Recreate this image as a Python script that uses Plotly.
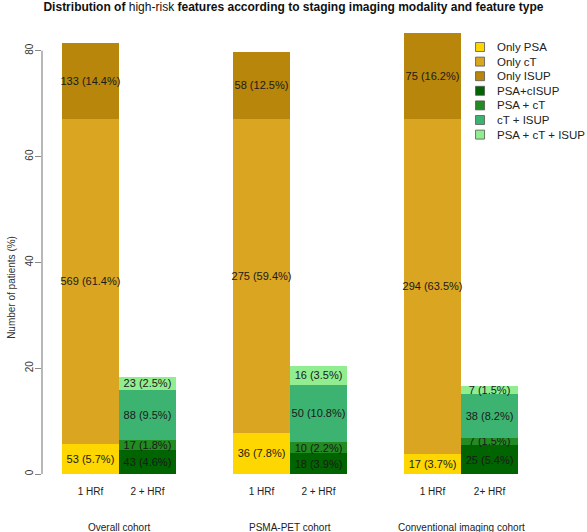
import plotly.graph_objects as go

# bar positions (units of bar width): 1 HRf / 2+ HRf pairs, one empty slot between cohorts
single_x = [0.5, 3.5, 6.5]
multi_x = [1.5, 4.5, 7.5]
bar_labels = ['1 HRf', '2 + HRf', '1 HRf', '2 + HRf', '1 HRf', '2+ HRf']
cohorts = ['Overall cohort', 'PSMA-PET cohort', 'Conventional imaging cohort']
cohort_x = [1.0, 4.0, 7.0]

names = ['Only PSA', 'Only cT', 'Only ISUP', 'PSA+cISUP', 'PSA + cT', 'cT + ISUP', 'PSA + cT + ISUP']
colors = ['#FFD700', '#DAA520', '#B8860B', '#006400', '#228B22', '#3CB371', '#90EE90']

# counts and percentages per cohort (Overall, PSMA-PET, Conventional)
only_psa_n = [53, 36, 17]
only_psa_pct = [5.7, 7.8, 3.7]
only_ct_n = [569, 275, 294]
only_ct_pct = [61.4, 59.4, 63.5]
only_isup_n = [133, 58, 75]
only_isup_pct = [14.4, 12.5, 16.2]
psa_isup_n = [43, 18, 25]
psa_isup_pct = [4.6, 3.9, 5.4]
psa_ct_n = [17, 10, 7]
psa_ct_pct = [1.8, 2.2, 1.5]
ct_isup_n = [88, 50, 38]
ct_isup_pct = [9.5, 10.8, 8.2]
all_three_n = [23, 16, 7]
all_three_pct = [2.5, 3.5, 1.5]

series = [
    (single_x, only_psa_n, only_psa_pct),
    (single_x, only_ct_n, only_ct_pct),
    (single_x, only_isup_n, only_isup_pct),
    (multi_x, psa_isup_n, psa_isup_pct),
    (multi_x, psa_ct_n, psa_ct_pct),
    (multi_x, ct_isup_n, ct_isup_pct),
    (multi_x, all_three_n, all_three_pct),
]

FONT = 'Liberation Sans, Arial, sans-serif'

fig = go.Figure()
for (xs, n, pct), name, col in zip(series, names, colors):
    fig.add_trace(go.Bar(x=xs, y=pct, name=name, width=1,
                         marker=dict(color=col, line=dict(width=0)),
                         text=[f'{a} ({b}%)' for a, b in zip(n, pct)],
                         textposition='inside', insidetextanchor='middle',
                         textangle=0,
                         textfont=dict(size=11, color='#1a1a1a', family=FONT),
                         showlegend=False))

# y axis line only from 0 to 80, like base R
fig.add_shape(type='line', xref='paper', yref='y', x0=0, x1=0, y0=0, y1=80,
              line=dict(color='#888888', width=1.2))

# cohort names under the bars
for cx, label in zip(cohort_x, cohorts):
    fig.add_annotation(x=cx, y=-0.12, xref='x', yref='paper',
                       yanchor='middle', text=label, showarrow=False,
                       font=dict(size=10, color='#222222', family=FONT))

fig.add_annotation(x=-0.07, y=0.42, xref='paper', yref='paper',
                   text='Number of patients (%)', textangle=-90, showarrow=False,
                   font=dict(size=10, color='#333333', family=FONT))

# hand drawn legend (base R legend spacing is tighter than plotly's)
for i, (name, col) in enumerate(zip(names, colors)):
    py = (474 - (47 + i * 14.6)) / 444
    fig.add_shape(type='rect', xref='paper', yref='paper',
                  x0=0.7955, x1=0.812, y0=py - 0.0101, y1=py + 0.0101,
                  fillcolor=col, line=dict(color='#555555', width=0.8))
    fig.add_annotation(x=0.831, y=py, xref='paper', yref='paper',
                       xanchor='left', yanchor='middle', text=name, showarrow=False,
                       font=dict(size=11.5, color='#222222', family=FONT))

fig.update_layout(
    width=587, height=532,
    margin=dict(l=42, r=0, t=30, b=58),
    barmode='stack',
    plot_bgcolor='white', paper_bgcolor='white',
    uniformtext=dict(minsize=11, mode='show'),
    title=dict(text='<b>Distribution of </b>high-risk<b> features according to staging imaging modality and feature type</b>',
               x=0.5, xanchor='center', y=0.988, yanchor='middle',
               font=dict(size=12, color='#111111', family=FONT)),
    xaxis=dict(range=[-0.35, 9.21], tickvals=single_x + multi_x,
               ticktext=bar_labels[0::2] + bar_labels[1::2],
               showgrid=False, zeroline=False, showline=False, ticks='',
               ticklabelstandoff=10, automargin=False,
               tickfont=dict(size=10, color='#222222', family=FONT)),
    yaxis=dict(range=[0, 83.93], tickvals=[0, 20, 40, 60, 80],
               showgrid=False, zeroline=False, showline=False,
               ticks='outside', ticklen=6, tickcolor='#888888',
               tickangle=-90, ticklabelstandoff=-2, automargin=False,
               tickfont=dict(size=10, color='#333333', family=FONT)),
)

# page body has a default 8px margin; drop it so the figure sits at 0,0
fig.write_html('out.html', config={'displayModeBar': False},
               post_script="document.body.style.margin='0';")
